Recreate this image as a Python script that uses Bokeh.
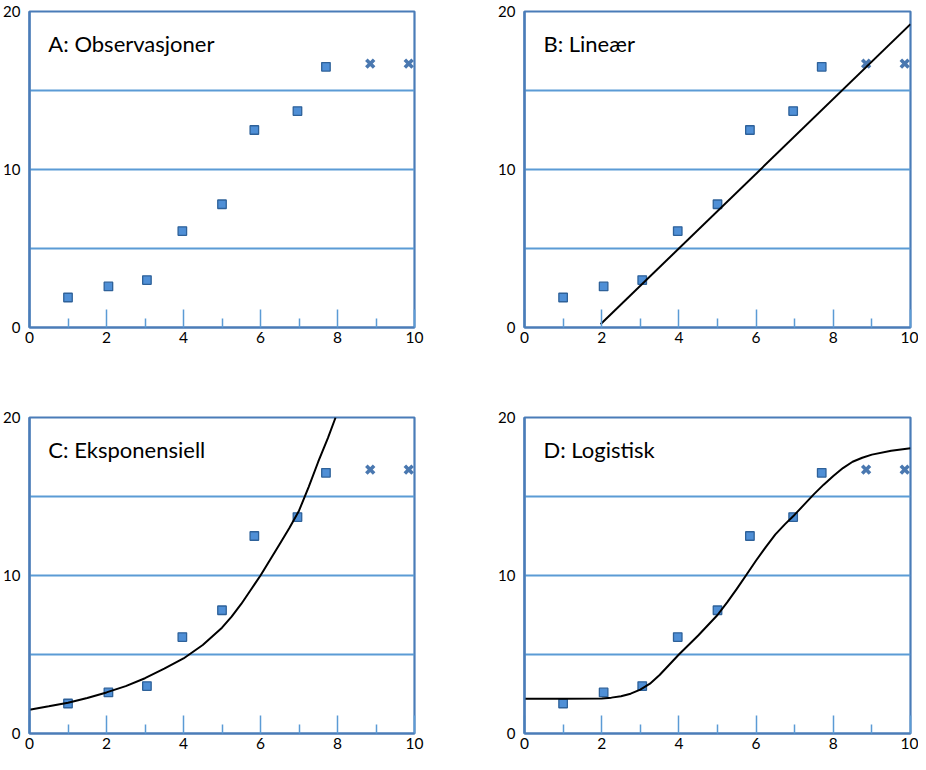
from bokeh.plotting import figure
from bokeh.layouts import column, row
from bokeh.models import FixedTicker, Label, Range1d
from bokeh.embed import file_html
from bokeh.resources import INLINE

# ---- data ----
titles = ["A: Observasjoner", "B: Lineær", "C: Eksponensiell", "D: Logistisk"]

obs_x = [1.0, 2.05, 3.05, 3.97, 5.0, 5.84, 6.96, 7.7]
obs_y = [1.9, 2.6, 3.0, 6.1, 7.8, 12.5, 13.7, 16.5]

extra_x = [8.85, 9.85]
extra_y = [16.7, 16.7]

lin_x = [1.97, 10.0]
lin_y = [0.2, 19.2]

exp_x = [0, 0.5, 1, 1.5, 2, 2.5, 3, 3.5, 4, 4.5, 5, 5.25, 5.5, 5.75, 6,
         6.25, 6.5, 6.75, 7, 7.25, 7.5, 7.75, 7.95]
exp_y = [1.5, 1.72, 1.95, 2.25, 2.6, 3.0, 3.5, 4.1, 4.75, 5.6, 6.7, 7.4, 8.2, 9.1, 10.0,
         11.0, 12.0, 13.0, 14.1, 15.6, 17.2, 18.7, 20.0]

log_x = [0, 1, 2, 2.25, 2.5, 2.75, 3, 3.25, 3.5, 3.75, 4, 4.5, 5, 5.25, 5.5, 5.75, 6,
         6.25, 6.5, 6.75, 7, 7.25, 7.5, 7.75, 8, 8.25, 8.5, 8.75, 9, 9.5, 10]
log_y = [2.2, 2.2, 2.22, 2.27, 2.36, 2.52, 2.78, 3.15, 3.7, 4.35, 5.0, 6.2, 7.5, 8.3, 9.15,
         10.05, 10.95, 11.8, 12.6, 13.25, 13.85, 14.5, 15.15, 15.75, 16.3, 16.8, 17.2,
         17.45, 17.65, 17.9, 18.05]

x_major = [0, 2, 4, 6, 8, 10]
x_minor = [1, 3, 5, 7, 9]
y_ticks = [0, 10, 20]
y_grid = [5, 10, 15]

FONT = "Lato"
FRAME_COL = "#4a7cb8"
GRID_COL = "#5b9bd5"


def make_panel(title, left, right, top, bottom, frame_w, frame_h):
    p = figure(
        width=left + frame_w + right,
        height=top + frame_h + bottom,
        x_range=Range1d(0, 10),
        y_range=Range1d(0, 20),
        output_backend="svg",
        toolbar_location=None,
        min_border_left=left,
        min_border_right=right,
        min_border_top=top,
        min_border_bottom=bottom,
        background_fill_color="white",
        border_fill_color="white",
    )
    p.outline_line_color = FRAME_COL
    p.outline_line_width = 2.2
    p.outline_line_alpha = 1

    xa = p.xaxis[0]
    xa.ticker = FixedTicker(ticks=x_major, minor_ticks=x_minor)
    xa.major_tick_in = 18
    xa.major_tick_out = 0
    xa.minor_tick_in = 9
    xa.minor_tick_out = 0
    xa.major_tick_line_color = GRID_COL
    xa.major_tick_line_width = 1.5
    xa.minor_tick_line_color = GRID_COL
    xa.minor_tick_line_width = 1.5
    xa.axis_line_color = FRAME_COL
    xa.axis_line_width = 2.2
    xa.major_label_text_font = FONT
    xa.major_label_text_font_size = "15.5px"
    xa.major_label_text_color = "black"
    xa.major_label_standoff = 4

    ya = p.yaxis[0]
    ya.ticker = FixedTicker(ticks=y_ticks)
    ya.major_tick_in = 0
    ya.major_tick_out = 0
    ya.minor_tick_in = 0
    ya.minor_tick_out = 0
    ya.axis_line_color = FRAME_COL
    ya.axis_line_width = 2.2
    ya.major_label_text_font = FONT
    ya.major_label_text_font_size = "15px"
    ya.major_label_text_color = "black"
    ya.major_label_standoff = 9

    p.xgrid.visible = False
    p.ygrid.ticker = FixedTicker(ticks=y_grid)
    p.ygrid.grid_line_color = GRID_COL
    p.ygrid.grid_line_width = 1.8

    p.scatter(obs_x, obs_y, marker="square", size=8.5,
              fill_color="#4f8fd6", line_color="#2e6199", line_width=1.3)
    p.scatter(extra_x, extra_y, marker="x", size=11,
              line_color="#4a78b0", line_width=3.6)

    p.add_layout(Label(x=0.49, y=17.95, text=title, text_font=FONT,
                       text_font_size="22px", text_color="black",
                       text_baseline="alphabetic", text_align="left"))
    return p


FW_L, FW_R = 385, 386
FH = 316

pA = make_panel(titles[0], 29, 66, 11, 79, FW_L, FH)
pB = make_panel(titles[1], 44, 8, 11, 79, FW_R, FH)
pC = make_panel(titles[2], 29, 66, 11, 21, FW_L, FH)
pD = make_panel(titles[3], 44, 8, 11, 21, FW_R, FH)

pB.line(lin_x, lin_y, line_color="black", line_width=2)
pC.line(exp_x, exp_y, line_color="black", line_width=2)
pD.line(log_x, log_y, line_color="black", line_width=2)

layout = column(row(pA, pB), row(pC, pD))

with open("out.html", "w") as f:
    f.write(file_html(layout, INLINE))
